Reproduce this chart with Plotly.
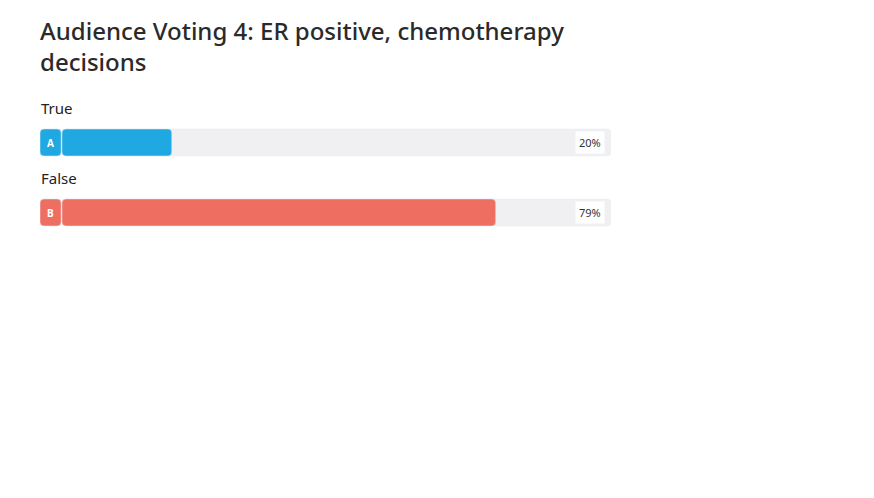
import plotly.graph_objects as go

title_lines = ["Audience Voting 4: ER positive, chemotherapy", "decisions"]
options = ["True", "False"]
letters = ["A", "B"]
percents = [20, 79]
colors = ["#1fa8e2", "#ee6f62"]

W, H = 874, 498
ypos = list(range(len(options)))

fig = go.Figure()
# background track
fig.add_trace(go.Bar(y=ypos, x=[100] * len(options), base=0, orientation="h",
                     marker=dict(color="#f0f0f2", cornerradius=4), width=0.386,
                     hoverinfo="skip", showlegend=False))
fig.add_trace(go.Bar(y=ypos, x=[-4] * len(options), base=-0.0, orientation="h",
                     marker=dict(color="#f0f0f2", cornerradius=4), width=0.386,
                     hoverinfo="skip", showlegend=False))
# letter boxes
fig.add_trace(go.Bar(y=ypos, x=[-3.85] * len(options), base=-0.15, orientation="h",
                     marker=dict(color=colors, cornerradius=4), width=0.386,
                     hoverinfo="skip", showlegend=False))
# value bars
fig.add_trace(go.Bar(y=ypos, x=percents, base=0, orientation="h",
                     marker=dict(color=colors, cornerradius=4), width=0.386,
                     hoverinfo="skip", showlegend=False))

ann = []
for i, (opt, let, p) in enumerate(zip(options, letters, percents)):
    ann.append(dict(x=-4, y=i - 0.5, xref="x", yref="y", text=opt, showarrow=False,
                    xanchor="left", yanchor="middle", xshift=-1,
                    font=dict(family="Noto Sans", size=15, color="#222222")))
    ann.append(dict(x=-2.05, y=i, xref="x", yref="y", text=f"<b>{let}</b>", showarrow=False,
                    xanchor="center", yanchor="middle",
                    font=dict(family="Noto Sans", size=10, color="white")))
    ann.append(dict(x=100, y=i, xref="x", yref="y", text=f"{p}%", showarrow=False,
                    xanchor="right", yanchor="middle", xshift=-6,
                    bgcolor="white", borderpad=3,
                    font=dict(family="Noto Sans", size=11, color="#333333")))

ann.append(dict(x=40 / W, y=1 - 45.5 / H, xref="paper", yref="paper",
                text="<br>".join(title_lines), align="left",
                showarrow=False, xanchor="left", yanchor="middle", xshift=-2,
                font=dict(family="Noto Sans", size=24, color="#2a2a2a", weight=500)))

fig.update_layout(
    width=W, height=H, margin=dict(l=0, r=0, t=0, b=0),
    paper_bgcolor="white", plot_bgcolor="white", barmode="overlay",
    xaxis=dict(domain=[40 / W, 611 / W], range=[-4, 100], visible=False, fixedrange=True),
    yaxis=dict(domain=[0, 1], range=[(H - 142.5) / 70, -142.5 / 70], visible=False, fixedrange=True),
    annotations=ann,
)
fig.write_html("out.html")
